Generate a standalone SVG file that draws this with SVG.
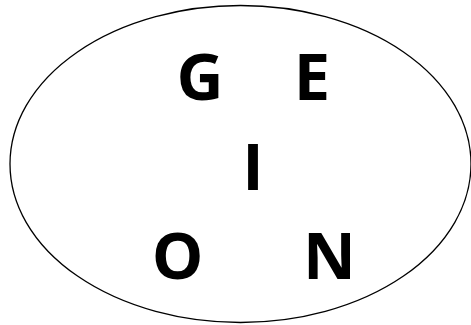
<svg xmlns="http://www.w3.org/2000/svg" width="471" height="325" viewBox="0 0 471 325">
<style>
.l{font-family:"Open Sans","Liberation Sans",sans-serif;font-weight:bold;font-size:65px;fill:#000;text-anchor:middle}
</style>
<rect width="471" height="325" fill="#fff"/>
<g id="ellipse"><ellipse cx="240.5" cy="164" rx="230.5" ry="158.5" fill="none" stroke="#000" stroke-width="1.3"/></g>
<g id="G"><text class="l" x="200" y="100">G</text></g>
<g id="E"><text class="l" x="312" y="100">E</text></g>
<g id="I"><text class="l" x="253" y="190">I</text></g>
<g id="O"><text class="l" x="177.5" y="279">O</text></g>
<g id="N"><text class="l" x="329.5" y="279">N</text></g>
</svg>
